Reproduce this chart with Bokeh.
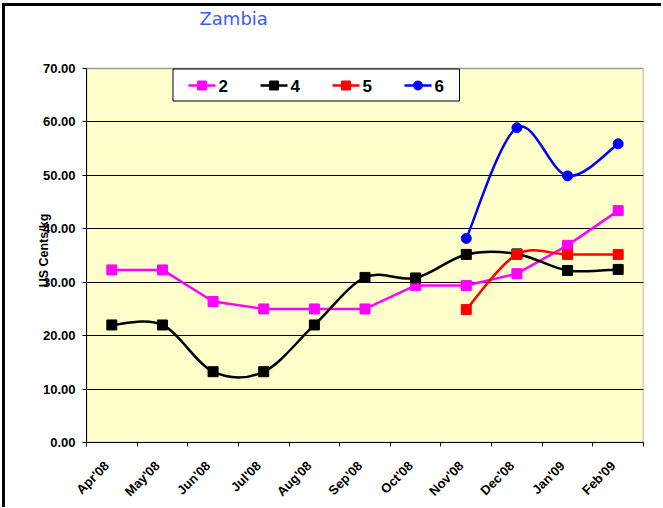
import numpy as np
from math import pi
from bokeh.plotting import figure
from bokeh.models import Range1d, FixedTicker, Label, PrintfTickFormatter
from bokeh.embed import file_html
from bokeh.resources import INLINE

# ---------------- data ----------------
months = ["Apr'08", "May'08", "Jun'08", "Jul'08", "Aug'08", "Sep'08",
          "Oct'08", "Nov'08", "Dec'08", "Jan'09", "Feb'09"]
series_2 = [32.3, 32.3, 26.4, 25.0, 25.0, 25.0, 29.4, 29.4, 31.6, 36.9, 43.4]
series_4 = [22.0, 22.0, 13.25, 13.25, 22.0, 30.9, 30.8, 35.2, 35.3, 32.2, 32.4]
series_5 = [None, None, None, None, None, None, None, 24.9, 35.2, 35.2, 35.2]
series_6 = [None, None, None, None, None, None, None, 38.2, 58.9, 49.9, 55.9]
legend_names = ["2", "4", "5", "6"]
y_ticks = [0, 10, 20, 30, 40, 50, 60, 70]
title_text = "Zambia"
y_title = "US Cents/kg"

# ---------------- layout (page pixels of the reference) ----------------
OX, OY = 5, 6                       # canvas origin on the page (after css border/margin)
PL, PR, PT, PB = 86, 643, 68, 442   # plot area on the page
NX = len(months)
x_lo, x_hi = -0.5, NX - 0.5
y_lo, y_top = 0, 70
# the frame reaches up to the top of the canvas so that the title can live inside it
y_hi = y_top * (PB - OY) / (PB - PT)


def X(px):  # page px -> data x
    return x_lo + (px - PL) / (PR - PL) * (x_hi - x_lo)


def Y(py):  # page px -> data y
    return y_lo + (PB - py) / (PB - PT) * (y_top - y_lo)


p = figure(frame_width=PR - PL, frame_height=PB - OY,
           output_backend="svg", toolbar_location=None,
           x_range=Range1d(x_lo, x_hi), y_range=Range1d(y_lo, y_hi),
           min_border_left=PL - OX, min_border_right=18,
           min_border_top=0, min_border_bottom=50)
p.styles = {"border-top": "3px solid black", "border-left": "3px solid black",
            "margin-top": "3px", "margin-left": "2px"}
p.background_fill_color = "white"
p.border_fill_color = "white"
p.outline_line_color = None

# plot area
p.quad(left=[x_lo], right=[x_hi], bottom=[y_lo], top=[y_top],
       fill_color="#FFFFCC", line_color="#9a9a9a", line_width=1.5, level="image")

# grid
p.xgrid.visible = False
p.ygrid.ticker = FixedTicker(ticks=[t for t in y_ticks if 0 < t < 70])
p.ygrid.grid_line_color = "black"
p.ygrid.grid_line_width = 1

# axes
font = "Liberation Sans"
LAB_SHIFT = 0.1   # rotated labels end slightly left of the category centre
label_pos = [round(i - LAB_SHIFT, 3) for i in range(NX)]
xa = p.xaxis[0]
xa.ticker = FixedTicker(ticks=label_pos,
                        minor_ticks=[i - 0.5 for i in range(NX + 1)])
xa.major_label_overrides = {pos: m for pos, m in zip(label_pos, months)}
xa.major_label_orientation = pi / 4
xa.major_tick_out = 0
xa.major_tick_in = 0
xa.minor_tick_out = 4
xa.minor_tick_in = 0
xa.minor_tick_line_color = "black"
xa.axis_line_color = "black"
xa.major_label_text_font = font
xa.major_label_text_font_style = "bold"
xa.major_label_text_font_size = "13px"
xa.major_label_text_color = "black"
xa.major_label_standoff = 17

ya = p.yaxis[0]
ya.bounds = (y_lo, y_top)
ya.ticker = FixedTicker(ticks=y_ticks, minor_ticks=[])
ya.formatter = PrintfTickFormatter(format="%.2f")
ya.major_tick_out = 4
ya.major_tick_in = 0
ya.major_tick_line_color = "black"
ya.axis_line_color = "black"
ya.major_label_text_font = font
ya.major_label_text_font_style = "bold"
ya.major_label_text_font_size = "13px"
ya.major_label_text_color = "black"
ya.major_label_standoff = 7
# trailing no-break spaces lower the visible title to the middle of the plot area
ya.axis_label = y_title + "\u00a0" * 15
ya.axis_label_text_font = font
ya.axis_label_text_font_style = "bold"
ya.axis_label_text_font_size = "12.5px"
ya.axis_label_text_color = "black"
ya.axis_label_standoff = -11


# ---------------- smoothed (Excel-like) curve ----------------
def smooth(xs, ys):
    pts = [(x, y) for x, y in zip(xs, ys) if y is not None]
    n = len(pts)
    d = dict(x0=[], y0=[], x1=[], y1=[], cx0=[], cy0=[], cx1=[], cy1=[])
    for i in range(n - 1):
        a = pts[i - 1] if i > 0 else pts[i]
        b = pts[i]
        c = pts[i + 1]
        e = pts[i + 2] if i + 2 < n else pts[i + 1]
        d["x0"].append(b[0]); d["y0"].append(b[1])
        d["x1"].append(c[0]); d["y1"].append(c[1])
        d["cx0"].append(b[0] + (c[0] - a[0]) / 6); d["cy0"].append(b[1] + (c[1] - a[1]) / 6)
        d["cx1"].append(c[0] - (e[0] - b[0]) / 6); d["cy1"].append(c[1] - (e[1] - b[1]) / 6)
    return d


def valid(ys):
    xs = [i for i, y in enumerate(ys) if y is not None]
    return xs, [ys[i] for i in xs]


LW = 2.5
idx = list(range(NX))

# series 2 (straight, magenta squares)
p.line(idx, series_2, line_color="#FF00FF", line_width=LW)
p.scatter(idx, series_2, marker="square", size=10, fill_color="#FF00FF", line_color="#FF00FF")

# series 4 (smooth, black squares)
p.bezier(**smooth(idx, series_4), line_color="black", line_width=LW, line_cap="round")
p.scatter(idx, series_4, marker="square", size=10, fill_color="black", line_color="black")

# series 5 (smooth, red squares)
x5, y5 = valid(series_5)
p.bezier(**smooth(x5, y5), line_color="#FF0000", line_width=LW, line_cap="round")
p.scatter(x5, y5, marker="square", size=10, fill_color="#FF0000", line_color="#FF0000")

# series 6 (smooth, blue circles)
x6, y6 = valid(series_6)
p.bezier(**smooth(x6, y6), line_color="#0000FF", line_width=LW, line_cap="round")
p.scatter(x6, y6, marker="circle", size=10, fill_color="#0000FF", line_color="#0000FF")

# ---------------- legend (drawn by hand) ----------------
p.quad(left=[X(172.5)], right=[X(459)], top=[Y(68.5)], bottom=[Y(100.5)],
       fill_color="white", line_color="black", line_width=1)
leg_colors = ["#FF00FF", "black", "#FF0000", "#0000FF"]
leg_markers = ["square", "square", "square", "circle"]
ly = Y(85)
for k, (nm, col, mk) in enumerate(zip(legend_names, leg_colors, leg_markers)):
    gx = 188 + 72 * k
    p.line([X(gx), X(gx + 27)], [ly, ly], line_color=col, line_width=LW)
    p.scatter([X(gx + 13.5)], [ly], marker=mk, size=9, fill_color=col, line_color=col)
    p.add_layout(Label(x=X(gx + 30), y=ly, text=nm, text_font=font,
                       text_font_style="bold", text_font_size="17px",
                       text_baseline="middle", text_align="left", text_color="black"))

# ---------------- chart title ----------------
p.add_layout(Label(x=X(199), y=Y(18), text=title_text, text_font="DejaVu Sans",
                   text_font_size="18px", text_color="#3B5EF0",
                   text_baseline="alphabetic", text_align="left"))

open("out.html", "w").write(file_html(p, INLINE))
